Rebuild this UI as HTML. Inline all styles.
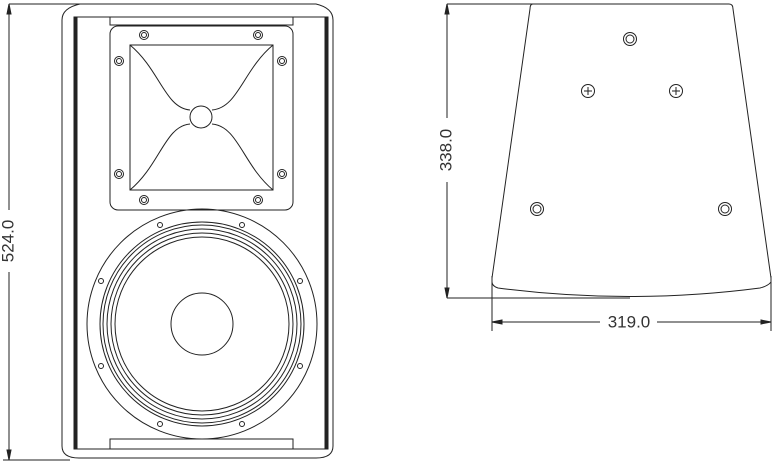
<!DOCTYPE html>
<html><head><style>body{margin:0;background:#fff}svg{display:block}</style></head><body>
<svg width="774" height="465" viewBox="0 0 774 465" xmlns="http://www.w3.org/2000/svg" fill="none" stroke="#222" stroke-width="1">
<!-- left dimension -->
<line x1="9" y1="4" x2="80" y2="4"/>
<line x1="3" y1="460" x2="70" y2="460"/>
<line x1="9" y1="4" x2="9" y2="210"/><line x1="9" y1="272" x2="9" y2="460"/>
<path d="M9 4 L7 14 L11 14 Z M9 460 L7 450 L11 450 Z" fill="#222"/>
<text x="9" y="241" transform="rotate(-90 9 241)" font-family="Liberation Sans, sans-serif" font-size="17" fill="#333" stroke="none" text-anchor="middle" dominant-baseline="middle">524.0</text>
<!-- cabinet -->
<path d="M62 20 Q62 8 80 4 L316 4 Q333 8 333 20 L333 446 Q333 458 316 458 L79 458 Q62 458 62 446 Z"/>
<rect x="74" y="17" width="254" height="432"/>
<rect x="74" y="17" width="3" height="432" fill="#222"/>
<rect x="325" y="17" width="3" height="432" fill="#222"/>
<rect x="110" y="17" width="183" height="8"/>
<rect x="110" y="439" width="183" height="10"/>
<!-- horn -->
<rect x="110" y="26" width="183" height="184" rx="8"/>
<rect x="130" y="45" width="143" height="145"/>
<circle cx="201" cy="117" r="11"/>
<path d="M130 45 C160 70 165 108 190 110 M273 45 C243 70 238 108 212 110 M130 190 C160 165 165 126 190 124 M273 190 C243 165 238 126 212 124"/>
<g>
<circle cx="144" cy="35" r="4.5"/><circle cx="144" cy="35" r="2.5"/>
<circle cx="258" cy="35" r="4.5"/><circle cx="258" cy="35" r="2.5"/>
<circle cx="119" cy="61" r="4.5"/><circle cx="119" cy="61" r="2.5"/>
<circle cx="282" cy="61" r="4.5"/><circle cx="282" cy="61" r="2.5"/>
<circle cx="119" cy="174" r="4.5"/><circle cx="119" cy="174" r="2.5"/>
<circle cx="282" cy="174" r="4.5"/><circle cx="282" cy="174" r="2.5"/>
<circle cx="144" cy="200" r="4.5"/><circle cx="144" cy="200" r="2.5"/>
<circle cx="258" cy="200" r="4.5"/><circle cx="258" cy="200" r="2.5"/>
</g>
<!-- woofer -->
<circle cx="202" cy="324" r="115"/>
<circle cx="202" cy="324" r="102"/>
<circle cx="202" cy="324" r="99"/>
<circle cx="202" cy="324" r="95"/>
<circle cx="202" cy="324" r="91"/>
<circle cx="202" cy="324" r="87"/>
<circle cx="202" cy="324" r="31"/>
<g>
<circle cx="160" cy="225" r="2.5"/><circle cx="242" cy="225" r="2.5"/>
<circle cx="101" cy="281" r="2.5"/><circle cx="300" cy="281" r="2.5"/>
<circle cx="101" cy="366" r="2.5"/><circle cx="300" cy="366" r="2.5"/>
<circle cx="160" cy="424" r="2.5"/><circle cx="242" cy="424" r="2.5"/>
</g>
<!-- right view -->
<path d="M533 4 L729 4 Q733 4 733 9 L771 278 L771 282 Q768 286 760 288 Q630 305 498 288 Q492 286 492 282 L492 278 L530 9 Q530 4 533 4 Z"/>
<circle cx="630" cy="39" r="6.5"/><circle cx="630" cy="39" r="4"/>
<circle cx="537" cy="209" r="6.5"/><circle cx="537" cy="209" r="4"/>
<circle cx="725" cy="209" r="6.5"/><circle cx="725" cy="209" r="4"/>
<circle cx="588" cy="91" r="6.5"/><path d="M584 91 H592 M588 87 V95"/>
<circle cx="676" cy="91" r="6.5"/><path d="M672 91 H680 M676 87 V95"/>
<!-- right dims -->
<line x1="447" y1="4" x2="533" y2="4"/>
<line x1="447" y1="298" x2="630" y2="298"/>
<line x1="447" y1="4" x2="447" y2="118"/><line x1="447" y1="182" x2="447" y2="298"/>
<path d="M447 4 L445 14 L449 14 Z M447 298 L445 288 L449 288 Z" fill="#222"/>
<text x="447" y="150" transform="rotate(-90 447 150)" font-family="Liberation Sans, sans-serif" font-size="17" fill="#333" stroke="none" text-anchor="middle" dominant-baseline="middle">338.0</text>
<line x1="492" y1="276" x2="492" y2="331"/>
<line x1="771" y1="276" x2="771" y2="331"/>
<line x1="492" y1="322" x2="600" y2="322"/><line x1="657" y1="322" x2="771" y2="322"/>
<path d="M492 322 L502 320 L502 324 Z M771 322 L761 320 L761 324 Z" fill="#222"/>
<text x="629" y="323" font-family="Liberation Sans, sans-serif" font-size="17" fill="#333" stroke="none" text-anchor="middle" dominant-baseline="middle">319.0</text>
</svg>
</body></html>
